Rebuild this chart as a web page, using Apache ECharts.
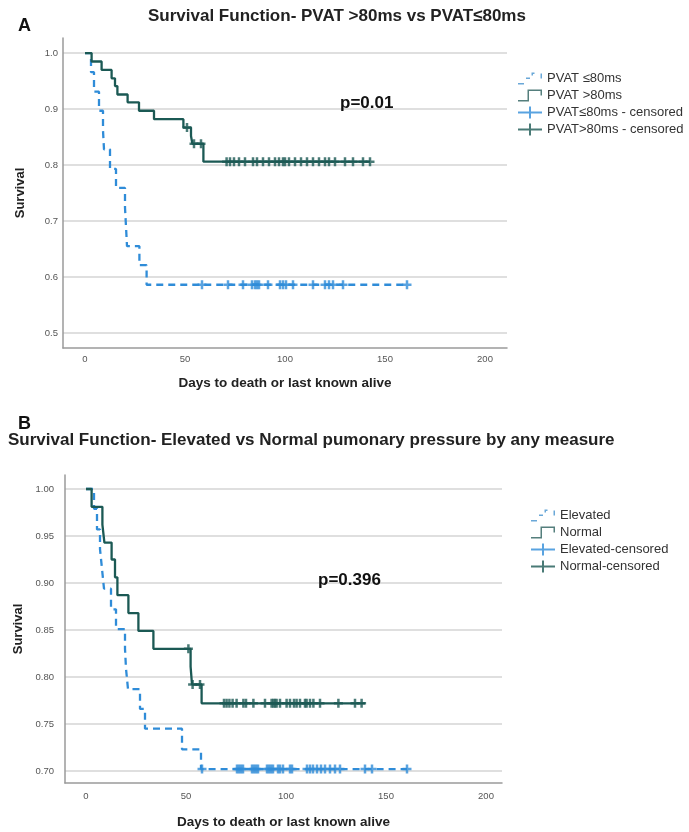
<!DOCTYPE html>
<html><head><meta charset="utf-8">
<script src="https://cdn.jsdelivr.net/npm/echarts@6/dist/echarts.min.js"></script>
<style>html,body{margin:0;padding:0;background:#fff}#c{width:689px;height:832px}</style>
</head><body><div id="c"></div><script>
// ---- tick labels ----
const xTicks = [0, 50, 100, 150, 200];
const yTicksA = [0.5, 0.6, 0.7, 0.8, 0.9, 1.0];
const yTicksB = [0.70, 0.75, 0.80, 0.85, 0.90, 0.95, 1.00];

// ---- Panel A: PVAT <=80ms (dashed) ----
const stepDaysA_low = [0, 3, 4.5, 7, 9, 9.5, 12.5, 15.5, 20, 20.5, 21, 27.2, 30.8];
const stepSurvA_low = [1, 0.966, 0.931, 0.897, 0.862, 0.828, 0.793, 0.759, 0.724, 0.690, 0.655, 0.621, 0.586];
const endDayA_low = 161;
const censorDaysA_low = [58.5, 71.5, 79, 83.5, 85, 86, 87, 91.5, 97.5, 99, 100.5, 104, 114, 120, 122, 124, 129, 161];

// ---- Panel A: PVAT >80ms (solid) ----
const stepDaysA_high = [0, 3.3, 8.3, 13.3, 15, 16.2, 21.3, 27, 34.5, 49.2, 53, 53.7, 59.2];
const stepSurvA_high = [1, 0.985, 0.970, 0.955, 0.941, 0.926, 0.912, 0.897, 0.882, 0.867, 0.852, 0.838, 0.806];
const endDayA_high = 142.5;
const censorDaysA_high = [51, 54.5, 58, 70.8, 72.5, 74.5, 77, 80, 84, 86, 89, 92, 95, 97, 99, 100, 102, 105, 108, 111, 114, 117, 120, 122, 125, 130, 134, 139, 142.5];

// ---- Panel B: Elevated (dashed) ----
const stepDaysB_elev = [0, 4, 5.5, 7, 8, 9, 12.5, 15, 19.5, 20, 21, 27, 29.5, 48, 57.5];
const stepSurvB_elev = [1, 0.979, 0.957, 0.936, 0.915, 0.894, 0.872, 0.851, 0.830, 0.809, 0.787, 0.766, 0.745, 0.723, 0.702];
const endDayB_elev = 160.5;
const censorDaysB_elev = [58, 75.5, 76.5, 77.5, 78.5, 83, 84, 85, 86, 90.5, 91.5, 92.5, 93.5, 96, 97, 98.5, 102, 103, 110.5, 112, 113.5, 115.5, 117.5, 119.5, 122, 124.5, 127, 139.5, 143, 160.5];

// ---- Panel B: Normal (solid) ----
const stepDaysB_norm = [0, 2.8, 8.2, 9.2, 12.8, 14.5, 15.7, 21.2, 26.2, 33.7, 52.3, 53, 57.8];
const stepSurvB_norm = [1, 0.981, 0.962, 0.943, 0.925, 0.906, 0.887, 0.868, 0.849, 0.830, 0.811, 0.792, 0.772];
const endDayB_norm = 139.5;
const censorDaysB_norm = [51.2, 53.3, 57, 69, 70.3, 71.7, 73.3, 75.3, 78.7, 80, 83.7, 89.5, 92.8, 93.7, 94.5, 95.3, 97, 100.3, 102, 104, 105.3, 107, 109.5, 110.3, 112, 113.7, 117, 126.2, 134.5, 137.8];

// ---- texts ----
const titleA = 'Survival Function- PVAT >80ms vs PVAT≤80ms';
const titleB = 'Survival Function- Elevated vs Normal pumonary pressure by any measure';
const pA = 'p=0.01';
const pB = 'p=0.396';
const namesA = ['PVAT ≤80ms', 'PVAT >80ms', 'PVAT≤80ms - censored', 'PVAT>80ms - censored'];
const namesB = ['Elevated', 'Normal', 'Elevated-censored', 'Normal-censored'];
const xName = 'Days to death or last known alive';
const yName = 'Survival';

// ---- helpers ----
function kmLine(days, surv, endDay) {
  const d = days.map((t, i) => [t, surv[i]]);
  d.push([endDay, surv[surv.length - 1]]);
  return d;
}
function kmLevel(days, surv, t) {
  let s = surv[0];
  for (let i = 0; i < days.length; i++) if (days[i] <= t) s = surv[i];
  return s;
}
function censorPts(days, surv, cd) { return cd.map(t => [t, kmLevel(days, surv, t)]); }

const FONT = 'Liberation Sans, Arial, sans-serif';
const BLUE = '#2f8cd8';
const TEAL = '#1b5954';
const plusSym = 'path://M3.25,0h2.5v3.25h3.25v2.5h-3.25v3.25h-2.5v-3.25h-3.25v-2.5h3.25z';
const dashIcon = 'path://M0,10.5h6v1.5h-6z M8,5h4v1.5h-4z M13.5,0h3v1.5h-3z M13.5,0h1.5v3h-1.5z M22.5,1h1.5v5h-1.5z';
const stepIcon = 'path://M0,10.5h11v1.5h-11z M9.5,0h1.5v12h-1.5z M9.5,0h14.5v1.5h-14.5z M22.5,0h1.5v6h-1.5z';
const crossIcon = 'path://M0,5h24v2h-24z M11,0h2v12h-2z';

function xAxisCfg(gi, min, max, margin, gap) {
  return {
    type: 'value', gridIndex: gi, min: min, max: max,
    axisLine: { show: true, onZero: false, lineStyle: { color: '#9a9a9a', width: 1.5 } },
    axisTick: { show: false, customValues: xTicks },
    axisLabel: { customValues: xTicks, color: '#555', fontSize: 9.5, fontFamily: FONT, margin: margin },
    splitLine: { show: false },
    name: xName, nameLocation: 'middle', nameGap: gap,
    nameTextStyle: { fontWeight: 'bold', fontSize: 13.5, fontFamily: FONT, color: '#222' }
  };
}
function yAxisCfg(gi, min, max, ticks, dec, margin, gap) {
  return {
    type: 'value', gridIndex: gi, min: min, max: max,
    axisLine: { show: true, onZero: false, lineStyle: { color: '#9a9a9a', width: 1.5 } },
    axisTick: { show: false, customValues: ticks },
    axisLabel: { customValues: ticks, color: '#555', fontSize: 9.5, fontFamily: FONT, margin: margin,
      formatter: v => v.toFixed(dec) },
    splitLine: { show: true, lineStyle: { color: '#d4d4d4', width: 1.5 } },
    name: yName, nameLocation: 'middle', nameGap: gap, nameRotate: 90,
    nameTextStyle: { fontWeight: 'bold', fontSize: 13, fontFamily: FONT, color: '#222' }
  };
}
function legendCfg(names, left, top) {
  return {
    orient: 'vertical', left: left, top: top, itemWidth: 24, itemHeight: 12, itemGap: 4,
    selectedMode: false,
    textStyle: { fontSize: 13, fontFamily: FONT, color: '#333' },
    data: [
      { name: names[0], icon: dashIcon, itemStyle: { color: '#6aa8d8', borderWidth: 0 } },
      { name: names[1], icon: stepIcon, itemStyle: { color: '#557f7d', borderWidth: 0 } },
      { name: names[2], icon: crossIcon, itemStyle: { color: BLUE, borderWidth: 0 } },
      { name: names[3], icon: crossIcon, itemStyle: { color: TEAL, borderWidth: 0 } }
    ]
  };
}
function lineSeries(name, gi, data, color, dashed) {
  return {
    type: 'line', name: name, xAxisIndex: gi, yAxisIndex: gi, data: data, step: 'end',
    showSymbol: false, symbol: 'none', color: color,
    lineStyle: { color: color, width: 2.3, type: dashed ? [7, 5] : 'solid' }, z: 2
  };
}
function censorSeries(name, gi, data, color) {
  return {
    type: 'scatter', name: name, xAxisIndex: gi, yAxisIndex: gi, data: data,
    symbol: plusSym, symbolSize: 9, color: color, itemStyle: { color: color }, z: 3
  };
}

const chart = echarts.init(document.getElementById('c'), null, { renderer: 'canvas' });
chart.setOption({
  animation: false,
  backgroundColor: '#fff',
  title: [
    { text: 'A', left: 13, top: 12, textStyle: { fontSize: 18, fontWeight: 'bold', fontFamily: FONT, color: '#111' } },
    { text: titleA, left: 143, top: 3, textStyle: { fontSize: 17, fontWeight: 'bold', fontFamily: FONT, color: '#222' } },
    { text: pA, left: 335, top: 90, textStyle: { fontSize: 17, fontWeight: 'bold', fontFamily: FONT, color: '#111' } },
    { text: 'B', left: 13, top: 410, textStyle: { fontSize: 18, fontWeight: 'bold', fontFamily: FONT, color: '#111' } },
    { text: titleB, left: 3, top: 427, textStyle: { fontSize: 17, fontWeight: 'bold', fontFamily: FONT, color: '#222' } },
    { text: pB, left: 313, top: 567, textStyle: { fontSize: 17, fontWeight: 'bold', fontFamily: FONT, color: '#111' } }
  ],
  legend: [ legendCfg(namesA, 513, 67), legendCfg(namesB, 526, 504) ],
  grid: [
    { left: 63, top: 38, width: 444, height: 310 },
    { left: 65, top: 475, width: 437, height: 308 }
  ],
  xAxis: [ xAxisCfg(0, -11, 211, 6, 28), xAxisCfg(1, -10.5, 208, 8, 32) ],
  yAxis: [ yAxisCfg(0, 0.473, 1.027, yTicksA, 1, 5, 36), yAxisCfg(1, 0.6872, 1.0149, yTicksB, 2, 11, 38) ],
  series: [
    lineSeries(namesA[0], 0, kmLine(stepDaysA_low, stepSurvA_low, endDayA_low), BLUE, true),
    lineSeries(namesA[1], 0, kmLine(stepDaysA_high, stepSurvA_high, endDayA_high), TEAL, false),
    censorSeries(namesA[2], 0, censorPts(stepDaysA_low, stepSurvA_low, censorDaysA_low), BLUE),
    censorSeries(namesA[3], 0, censorPts(stepDaysA_high, stepSurvA_high, censorDaysA_high), TEAL),
    lineSeries(namesB[0], 1, kmLine(stepDaysB_elev, stepSurvB_elev, endDayB_elev), BLUE, true),
    lineSeries(namesB[1], 1, kmLine(stepDaysB_norm, stepSurvB_norm, endDayB_norm), TEAL, false),
    censorSeries(namesB[2], 1, censorPts(stepDaysB_elev, stepSurvB_elev, censorDaysB_elev), BLUE),
    censorSeries(namesB[3], 1, censorPts(stepDaysB_norm, stepSurvB_norm, censorDaysB_norm), TEAL)
  ]
});
</script></body></html>
